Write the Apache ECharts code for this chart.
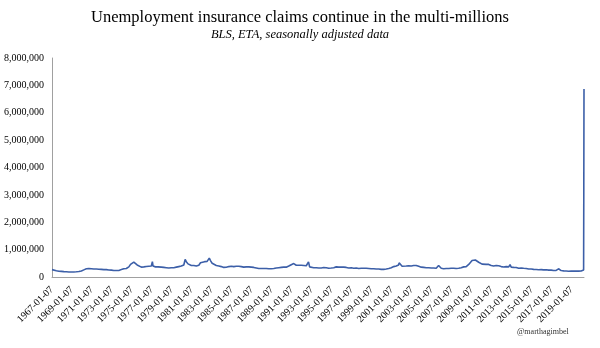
<!DOCTYPE html>
<html>
<head>
<meta charset="utf-8">
<script src="https://cdn.jsdelivr.net/npm/echarts@6/dist/echarts.min.js"></script>
<style>
html,body{margin:0;padding:0;background:#fff;}
#chart{width:600px;height:348px;}
</style>
</head>
<body>
<div id="chart"></div>
<script>
// Weekly initial unemployment claims (seasonally adjusted), thousands
var DATES = [
"1967-01-07","1967-03-15","1967-06-15","1967-09-15","1967-12-15",
"1968-03-15","1968-06-15","1968-09-15","1968-12-15",
"1969-03-15","1969-06-15","1969-09-15","1969-12-15",
"1970-03-15","1970-06-15","1970-09-15","1970-10-15","1970-12-15",
"1971-03-15","1971-06-15","1971-09-15","1971-12-15",
"1972-03-15","1972-06-15","1972-09-15","1972-12-15",
"1973-03-15","1973-06-15","1973-09-15","1973-12-15",
"1974-03-15","1974-06-15","1974-09-15","1974-11-15",
"1975-01-15","1975-03-15","1975-05-15","1975-07-15","1975-09-15","1975-12-15",
"1976-03-15","1976-06-15","1976-09-15","1976-12-15",
"1977-01-22","1977-02-15","1977-05-15","1977-08-15","1977-12-15",
"1978-03-15","1978-06-15","1978-09-15","1978-12-15",
"1979-03-15","1979-06-15","1979-09-15","1979-12-15",
"1980-03-15","1980-05-03","1980-06-15","1980-08-15","1980-10-15","1980-12-15",
"1981-03-15","1981-06-15","1981-09-15","1981-11-15",
"1982-01-15","1982-04-15","1982-07-15","1982-10-02","1982-11-15",
"1983-01-15","1983-03-15","1983-06-15","1983-09-15","1983-12-15",
"1984-03-15","1984-06-15","1984-09-15","1984-12-15",
"1985-03-15","1985-06-15","1985-09-15","1985-12-15",
"1986-03-15","1986-06-15","1986-09-15","1986-12-15",
"1987-03-15","1987-06-15","1987-09-15","1987-12-15",
"1988-03-15","1988-06-15","1988-09-15","1988-12-15",
"1989-03-15","1989-06-15","1989-09-15","1989-12-15",
"1990-03-15","1990-06-15","1990-09-15","1990-12-15",
"1991-03-15","1991-06-15","1991-09-15","1991-12-15",
"1992-03-15","1992-06-15","1992-09-05","1992-10-15","1992-12-15",
"1993-03-15","1993-06-15","1993-09-15","1993-12-15",
"1994-03-15","1994-06-15","1994-09-15","1994-12-15",
"1995-03-15","1995-06-15","1995-09-15","1995-12-15",
"1996-01-20","1996-03-15","1996-06-15","1996-09-15","1996-12-15",
"1997-03-15","1997-06-15","1997-09-15","1997-12-15",
"1998-03-15","1998-06-15","1998-09-15","1998-12-15",
"1999-03-15","1999-06-15","1999-09-15","1999-12-15",
"2000-03-15","2000-06-15","2000-09-15","2000-12-15",
"2001-03-15","2001-06-15","2001-09-08","2001-09-29","2001-11-15",
"2002-01-15","2002-03-15","2002-06-15","2002-09-15","2002-12-15",
"2003-03-15","2003-06-15","2003-09-15","2003-12-15",
"2004-03-15","2004-06-15","2004-09-15","2004-12-15",
"2005-03-15","2005-06-15","2005-09-10","2005-10-15","2005-12-15",
"2006-03-15","2006-06-15","2006-09-15","2006-12-15",
"2007-03-15","2007-06-15","2007-09-15","2007-12-15",
"2008-03-15","2008-06-15","2008-09-15","2008-11-15",
"2009-01-15","2009-03-28","2009-05-15","2009-07-15","2009-09-15","2009-11-15",
"2010-01-15","2010-03-15","2010-06-15","2010-09-15","2010-12-15",
"2011-03-15","2011-06-15","2011-09-15","2011-12-15",
"2012-03-15","2012-06-15","2012-09-15","2012-11-03","2012-12-15",
"2013-03-15","2013-06-15","2013-09-15","2013-12-15",
"2014-03-15","2014-06-15","2014-09-15","2014-12-15",
"2015-03-15","2015-06-15","2015-09-15","2015-12-15",
"2016-03-15","2016-06-15","2016-09-15","2016-12-15",
"2017-03-15","2017-06-15","2017-09-09","2017-10-15","2017-12-15",
"2018-03-15","2018-06-15","2018-09-15","2018-12-15",
"2019-03-15","2019-06-15","2019-09-15","2019-12-15",
"2020-02-15","2020-03-14","2020-03-21","2020-03-28"
];
var CLAIMS_K = [
270,250,230,210,205,
195,190,185,180,
185,190,200,220,
260,300,310,340,300,
290,290,285,280,
270,270,255,250,
235,235,240,270,
300,310,370,460,
520,545,500,440,400,360,
370,385,395,400,
560,400,370,370,360,
350,340,330,340,
340,360,380,400,
440,640,560,480,420,420,
420,400,430,520,
550,560,570,690,600,
500,470,420,400,380,
350,355,380,390,
380,390,390,380,
360,370,370,360,
350,330,310,310,
310,310,300,300,
310,330,340,350,
360,360,400,450,
490,430,430,430,
420,410,550,370,350,
340,340,330,330,
345,340,320,330,
340,370,360,360,
430,360,350,330,340,
320,330,310,320,
320,320,310,300,
300,290,290,280,
280,290,310,340,
380,400,440,517,450,
390,400,400,410,400,
420,420,390,360,
350,340,340,330,
330,320,420,360,320,
300,310,310,320,
320,310,320,340,
370,380,460,520,
600,665,620,560,540,490,
470,450,460,460,420,
400,420,410,380,
365,380,370,450,360,
350,345,320,330,
320,310,290,290,
280,275,265,270,
260,265,250,250,
240,240,300,240,235,
225,220,210,220,
215,220,215,220,
210,252,3307,6867
];
var TICK_LABELS = [];
for (var yr = 1967; yr <= 2019; yr += 2) { TICK_LABELS.push(yr + "-01-07"); }
var Y_MIN = 0, Y_MAX = 8000000, Y_STEP = 1000000;
var X_START = "1967-01-07", X_END = "2020-03-28";

function toUTC(s){ var p = s.split("-"); return Date.UTC(+p[0], +p[1]-1, +p[2]); }
var tickValues = TICK_LABELS.map(toUTC);
var seriesData = DATES.map(function(d,i){ return [toUTC(d), CLAIMS_K[i]*1000]; });

function fmtNum(v){ return String(v).replace(/\B(?=(\d{3})+(?!\d))/g, ","); }
function fmtDate(v){
  var best = -1, bd = Infinity;
  for (var i = 0; i < tickValues.length; i++) { var d = Math.abs(tickValues[i]-v); if (d < bd) { bd = d; best = i; } }
  return (best >= 0 && bd < 86400000*3) ? TICK_LABELS[best] : "";
}

var FONT = "Liberation Serif";
var chart = echarts.init(document.getElementById("chart"), null, {renderer:"canvas"});
chart.setOption({
  animation:false,
  backgroundColor:"#fff",
  title:{
    text:"Unemployment insurance claims continue in the multi-millions",
    subtext:"BLS, ETA, seasonally adjusted data",
    left:"center", top:4, itemGap:2,
    textStyle:{fontFamily:FONT, fontSize:16.5, fontWeight:"normal", color:"#000"},
    subtextStyle:{fontFamily:FONT, fontSize:12.5, fontStyle:"italic", color:"#000"}
  },
  grid:{left:52, right:16, top:58, bottom:71},
  xAxis:{
    type:"value",
    min:toUTC(X_START), max:toUTC(X_END),
    axisLine:{show:true, onZero:false, lineStyle:{color:"#a0a0a0", width:1}},
    axisTick:{show:false},
    splitLine:{show:false},
    axisLabel:{
      customValues:tickValues,
      rotate:45, margin:11,
      fontFamily:FONT, fontSize:10, color:"#000",
      formatter:fmtDate
    }
  },
  yAxis:{
    type:"value", min:Y_MIN, max:Y_MAX, interval:Y_STEP,
    axisLine:{show:true, onZero:false, lineStyle:{color:"#a0a0a0", width:1}},
    axisTick:{show:false},
    splitLine:{show:false},
    axisLabel:{fontFamily:FONT, fontSize:10, color:"#000", margin:8, formatter:fmtNum}
  },
  series:[{
    type:"line", data:seriesData, showSymbol:false,
    lineStyle:{color:"#3c5fa8", width:1.6},
    z:3
  }],
  graphic:[{
    type:"text", left:517, top:328,
    style:{text:"@marthagimbel", fontFamily:FONT, fontSize:8, fill:"#333"}
  }]
});
</script>
</body>
</html>
